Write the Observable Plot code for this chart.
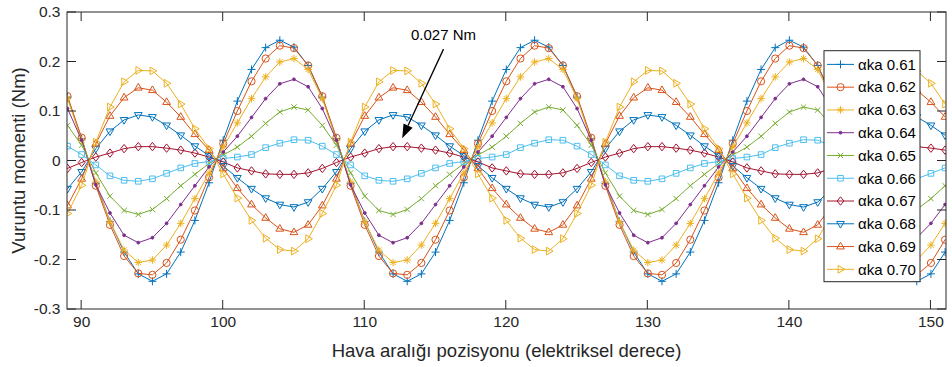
<!DOCTYPE html>
<html><head><meta charset="utf-8">
<script src="https://cdn.jsdelivr.net/npm/d3@7"></script>
<script src="https://cdn.jsdelivr.net/npm/@observablehq/plot@0.6"></script>
<style>
body{margin:0;background:#fff;}
#chart{width:952px;height:367px;}
</style>
</head><body><div id="chart"></div>
<script>
// ---------- data ----------
const angles = [89,90,91,92,93,94,95,96,97,98,99,100,101,102,103,104,105,106,107,108,109,110,111,112,113,114,115,116,117,118,119,120,121,122,123,124,125,126,127,128,129,130,131,132,133,134,135,136,137,138,139,140,141,142,143,144,145,146,147,148,149,150,151];

const seriesNames = ["αka 0.61","αka 0.62","αka 0.63","αka 0.64","αka 0.65","αka 0.66","αka 0.67","αka 0.68","αka 0.69","αka 0.70"];

const aka061 = [0.129,0.045,-0.045,-0.122,-0.184,-0.228,-0.243,-0.228,-0.184,-0.120,-0.044,
 0.042,0.121,0.185,0.229,0.244,0.230,0.193,0.129,0.045,-0.045,-0.122,-0.184,-0.228,-0.243,-0.228,-0.184,-0.120,-0.044,
 0.042,0.121,0.185,0.229,0.244,0.230,0.193,0.129,0.045,-0.045,-0.122,-0.184,-0.228,-0.243,-0.228,-0.184,-0.120,-0.044,
 0.042,0.121,0.185,0.229,0.244,0.230,0.193,0.129,0.045,-0.045,-0.122,-0.184,-0.228,-0.243,-0.228,-0.184];
const aka062 = [0.131,0.047,-0.050,-0.129,-0.192,-0.227,-0.230,-0.206,-0.159,-0.100,-0.033,
 0.035,0.101,0.161,0.207,0.233,0.228,0.193,0.131,0.047,-0.050,-0.129,-0.192,-0.227,-0.230,-0.206,-0.159,-0.100,-0.033,
 0.035,0.101,0.161,0.207,0.233,0.228,0.193,0.131,0.047,-0.050,-0.129,-0.192,-0.227,-0.230,-0.206,-0.159,-0.100,-0.033,
 0.035,0.101,0.161,0.207,0.233,0.228,0.193,0.131,0.047,-0.050,-0.129,-0.192,-0.227,-0.230,-0.206,-0.159];
const aka063 = [0.126,0.042,-0.042,-0.123,-0.180,-0.205,-0.200,-0.170,-0.126,-0.076,-0.024,
 0.028,0.077,0.126,0.170,0.200,0.207,0.185,0.126,0.042,-0.042,-0.123,-0.180,-0.205,-0.200,-0.170,-0.126,-0.076,-0.024,
 0.028,0.077,0.126,0.170,0.200,0.207,0.185,0.126,0.042,-0.042,-0.123,-0.180,-0.205,-0.200,-0.170,-0.126,-0.076,-0.024,
 0.028,0.077,0.126,0.170,0.200,0.207,0.185,0.126,0.042,-0.042,-0.123,-0.180,-0.205,-0.200,-0.170,-0.126];
const aka064 = [0.106,0.042,-0.048,-0.105,-0.150,-0.165,-0.155,-0.126,-0.088,-0.050,-0.012,
 0.018,0.050,0.088,0.126,0.156,0.165,0.150,0.106,0.042,-0.048,-0.105,-0.150,-0.165,-0.155,-0.126,-0.088,-0.050,-0.012,
 0.018,0.050,0.088,0.126,0.156,0.165,0.150,0.106,0.042,-0.048,-0.105,-0.150,-0.165,-0.155,-0.126,-0.088,-0.050,-0.012,
 0.018,0.050,0.088,0.126,0.156,0.165,0.150,0.106,0.042,-0.048,-0.105,-0.150,-0.165,-0.155,-0.126,-0.088];
const aka065 = [0.072,0.032,-0.024,-0.071,-0.100,-0.108,-0.098,-0.076,-0.050,-0.027,-0.005,
 0.012,0.028,0.050,0.076,0.099,0.109,0.103,0.072,0.032,-0.024,-0.071,-0.100,-0.108,-0.098,-0.076,-0.050,-0.027,-0.005,
 0.012,0.028,0.050,0.076,0.099,0.109,0.103,0.072,0.032,-0.024,-0.071,-0.100,-0.108,-0.098,-0.076,-0.050,-0.027,-0.005,
 0.012,0.028,0.050,0.076,0.099,0.109,0.103,0.072,0.032,-0.024,-0.071,-0.100,-0.108,-0.098,-0.076,-0.050];
const aka066 = [0.030,0.013,-0.008,-0.030,-0.039,-0.041,-0.036,-0.025,-0.014,-0.005,-0.001,
 0.005,0.008,0.013,0.027,0.036,0.043,0.042,0.030,0.013,-0.008,-0.030,-0.039,-0.041,-0.036,-0.025,-0.014,-0.005,-0.001,
 0.005,0.008,0.013,0.027,0.036,0.043,0.042,0.030,0.013,-0.008,-0.030,-0.039,-0.041,-0.036,-0.025,-0.014,-0.005,-0.001,
 0.005,0.008,0.013,0.027,0.036,0.043,0.042,0.030,0.013,-0.008,-0.030,-0.039,-0.041,-0.036,-0.025,-0.014];
const aka067 = [-0.015,-0.003,0.008,0.016,0.025,0.029,0.029,0.026,0.022,0.016,0.008,
 -0.002,-0.014,-0.020,-0.026,-0.027,-0.027,-0.024,-0.015,-0.003,0.008,0.016,0.025,0.029,0.029,0.026,0.022,0.016,0.008,
 -0.002,-0.014,-0.020,-0.026,-0.027,-0.027,-0.024,-0.015,-0.003,0.008,0.016,0.025,0.029,0.029,0.026,0.022,0.016,0.008,
 -0.002,-0.014,-0.020,-0.026,-0.027,-0.027,-0.024,-0.015,-0.003,0.008,0.016,0.025,0.029,0.029,0.026,0.022];
const aka068 = [-0.056,-0.022,0.025,0.060,0.083,0.093,0.089,0.072,0.052,0.030,0.011,
 -0.010,-0.034,-0.056,-0.075,-0.088,-0.093,-0.083,-0.056,-0.022,0.025,0.060,0.083,0.093,0.089,0.072,0.052,0.030,0.011,
 -0.010,-0.034,-0.056,-0.075,-0.088,-0.093,-0.083,-0.056,-0.022,0.025,0.060,0.083,0.093,0.089,0.072,0.052,0.030,0.011,
 -0.010,-0.034,-0.056,-0.075,-0.088,-0.093,-0.083,-0.056,-0.022,0.025,0.060,0.083,0.093,0.089,0.072,0.052];
const aka069 = [-0.090,-0.036,0.035,0.091,0.128,0.148,0.143,0.119,0.089,0.054,0.022,
 -0.015,-0.055,-0.088,-0.115,-0.137,-0.144,-0.129,-0.090,-0.036,0.035,0.091,0.128,0.148,0.143,0.119,0.089,0.054,0.022,
 -0.015,-0.055,-0.088,-0.115,-0.137,-0.144,-0.129,-0.090,-0.036,0.035,0.091,0.128,0.148,0.143,0.119,0.089,0.054,0.022,
 -0.015,-0.055,-0.088,-0.115,-0.137,-0.144,-0.129,-0.090,-0.036,0.035,0.091,0.128,0.148,0.143,0.119,0.089];
const aka070 = [-0.106,-0.049,0.038,0.109,0.160,0.183,0.182,0.157,0.115,0.065,0.025,
 -0.026,-0.075,-0.120,-0.156,-0.179,-0.182,-0.157,-0.106,-0.049,0.038,0.109,0.160,0.183,0.182,0.157,0.115,0.065,0.025,
 -0.026,-0.075,-0.120,-0.156,-0.179,-0.182,-0.157,-0.106,-0.049,0.038,0.109,0.160,0.183,0.182,0.157,0.115,0.065,0.025,
 -0.026,-0.075,-0.120,-0.156,-0.179,-0.182,-0.157,-0.106,-0.049,0.038,0.109,0.160,0.183,0.182,0.157,0.115];

const xTicks = [90,100,110,120,130,140,150];
const xTickLabels = ["90","100","110","120","130","140","150"];
const yTicks = [-0.3,-0.2,-0.1,0,0.1,0.2,0.3];
const yTickLabels = ["-0.3","-0.2","-0.1","0","0.1","0.2","0.3"];
const xLabel = "Hava aralığı pozisyonu (elektriksel derece)";
const yLabel = "Vuruntu momenti (Nm)";
const noteText = "0.027 Nm";
const notePoint = {x: 112.68, y: 0.045};
const noteFrom = {x: 115.6, y: 0.225};

// ---------- styles ----------
const values = [aka061,aka062,aka063,aka064,aka065,aka066,aka067,aka068,aka069,aka070];
const colors = ["#0072BD","#D95319","#EDB120","#7E2F8E","#77AC30","#4DBEEE","#A2142F","#0072BD","#D95319","#EDB120"];
function mk(fn){return {draw(c,s){const r=Math.sqrt(s/Math.PI); fn(c,r);}};}
const SYM = {
  plus: mk((c,r)=>{c.moveTo(-r,0);c.lineTo(r,0);c.moveTo(0,-r);c.lineTo(0,r);}),
  circle: mk((c,r)=>{c.moveTo(r,0);c.arc(0,0,r,0,2*Math.PI);}),
  asterisk: mk((c,r)=>{const a=r*0.7;c.moveTo(-r,0);c.lineTo(r,0);c.moveTo(0,-r);c.lineTo(0,r);c.moveTo(-a,-a);c.lineTo(a,a);c.moveTo(-a,a);c.lineTo(a,-a);}),
  point: mk((c,r)=>{c.moveTo(r,0);c.arc(0,0,r,0,2*Math.PI);}),
  times: mk((c,r)=>{const a=r*0.75;c.moveTo(-a,-a);c.lineTo(a,a);c.moveTo(-a,a);c.lineTo(a,-a);}),
  square: mk((c,r)=>{const a=r*0.78;c.moveTo(-a,-a);c.lineTo(a,-a);c.lineTo(a,a);c.lineTo(-a,a);c.closePath();}),
  diamond: mk((c,r)=>{c.moveTo(0,-r);c.lineTo(r*0.8,0);c.lineTo(0,r);c.lineTo(-r*0.8,0);c.closePath();}),
  down: mk((c,r)=>{c.moveTo(0,r);c.lineTo(r*0.9,-r*0.55);c.lineTo(-r*0.9,-r*0.55);c.closePath();}),
  up: mk((c,r)=>{c.moveTo(0,-r);c.lineTo(r*0.9,r*0.55);c.lineTo(-r*0.9,r*0.55);c.closePath();}),
  right: mk((c,r)=>{c.moveTo(r,0);c.lineTo(-r*0.55,r*0.9);c.lineTo(-r*0.55,-r*0.9);c.closePath();})
};
const symbols = [SYM.plus,SYM.circle,SYM.asterisk,SYM.point,SYM.times,SYM.square,SYM.diamond,SYM.down,SYM.up,SYM.right];
const radii = [4,3.6,3.8,1.4,3.6,3.6,4.2,4.3,4.3,4.3];
const filled = [false,false,false,true,false,false,false,false,false,false];

const marks = [
  Plot.axisX(xTicks,{anchor:"bottom",tickSize:0,tickPadding:6,fontSize:15.5,color:"#262626",tickFormat:d=>xTickLabels[xTicks.indexOf(d)],label:null}),
  Plot.axisY(yTicks,{anchor:"left",tickSize:0,tickPadding:7,fontSize:15.5,color:"#262626",tickFormat:d=>yTickLabels[yTicks.findIndex(t=>Math.abs(t-d)<1e-9)],label:null})
];
values.forEach((vals,i)=>{
  const rows = angles.map((a,j)=>({x:a,y:vals[j]}));
  marks.push(Plot.line(rows,{x:"x",y:"y",stroke:colors[i],strokeWidth:1,clip:true}));
  marks.push(Plot.dot(rows,{x:"x",y:"y",stroke:colors[i],fill:filled[i]?colors[i]:"none",strokeWidth:1,r:radii[i],symbol:symbols[i],clip:true}));
});

const chart = Plot.plot({
  width:952,height:367,
  marginLeft:67,marginRight:6,marginTop:12,marginBottom:58,
  style:{fontFamily:"'Liberation Sans', Arial, sans-serif",background:"white",overflow:"visible"},
  x:{domain:[89,151.1],label:null},
  y:{domain:[-0.3,0.3],label:null},
  marks
});
document.getElementById("chart").appendChild(chart);

// ---------- frame, inward ticks, labels, annotation, legend ----------
const sx = chart.scale("x"), sy = chart.scale("y");
const [fx0,fx1] = sx.range;
const yTopPx = Math.min(...sy.range), yBotPx = Math.max(...sy.range);
const svg = d3.select(chart);
const g = svg.append("g").attr("stroke","#262626").attr("stroke-width",1).attr("fill","none");
g.append("rect").attr("x",fx0).attr("y",yTopPx).attr("width",fx1-fx0).attr("height",yBotPx-yTopPx);
const T = 9;
xTicks.forEach(v=>{const px=sx.apply(v);
  g.append("line").attr("x1",px).attr("x2",px).attr("y1",yBotPx).attr("y2",yBotPx-T);
  g.append("line").attr("x1",px).attr("x2",px).attr("y1",yTopPx).attr("y2",yTopPx+T);});
yTicks.forEach(v=>{const py=sy.apply(v);
  g.append("line").attr("x1",fx0).attr("x2",fx0+T).attr("y1",py).attr("y2",py);
  g.append("line").attr("x1",fx1).attr("x2",fx1-T).attr("y1",py).attr("y2",py);});

const ff = "'Liberation Sans', Arial, sans-serif";
svg.append("text").attr("x",(fx0+fx1)/2).attr("y",357).attr("text-anchor","middle")
  .attr("font-family",ff).attr("font-size",18.5).attr("fill","#262626").text(xLabel);
svg.append("text").attr("transform",`translate(25,${(yTopPx+yBotPx)/2}) rotate(-90)`).attr("text-anchor","middle")
  .attr("font-family",ff).attr("font-size",18.5).attr("fill","#262626").text(yLabel);

// annotation arrow
const ax1 = sx.apply(noteFrom.x), ay1 = sy.apply(noteFrom.y);
const ax2 = sx.apply(notePoint.x), ay2 = sy.apply(notePoint.y);
const ang = Math.atan2(ay2-ay1, ax2-ax1), HL = 14, HW = 5;
const bx = ax2 - HL*Math.cos(ang), by = ay2 - HL*Math.sin(ang);
svg.append("line").attr("x1",ax1).attr("y1",ay1).attr("x2",bx).attr("y2",by).attr("stroke","#000").attr("stroke-width",1.3);
svg.append("path").attr("fill","#000").attr("d",
  `M${ax2},${ay2}L${bx+HW*Math.sin(ang)},${by-HW*Math.cos(ang)}L${bx-HW*Math.sin(ang)},${by+HW*Math.cos(ang)}Z`);
svg.append("text").attr("x",ax1).attr("y",ay1-9).attr("text-anchor","middle")
  .attr("font-family",ff).attr("font-size",15).attr("fill","#000").text(noteText);

// legend
const L = {x:824,y:50.7,w:96,h:231,row0:64.4,dy:22.77};
const lg = svg.append("g");
lg.append("rect").attr("x",L.x).attr("y",L.y).attr("width",L.w).attr("height",L.h).attr("fill","#fff").attr("stroke","#262626").attr("stroke-width",1);
seriesNames.forEach((name,i)=>{
  const yy = L.row0 + i*L.dy;
  lg.append("line").attr("x1",L.x+3).attr("x2",L.x+30).attr("y1",yy).attr("y2",yy).attr("stroke",colors[i]).attr("stroke-width",1);
  lg.append("path").attr("transform",`translate(${L.x+16.5},${yy})`)
    .attr("d",d3.symbol().type(symbols[i]).size(radii[i]*radii[i]*Math.PI)())
    .attr("stroke",colors[i]).attr("fill",filled[i]?colors[i]:"none").attr("stroke-width",1);
  lg.append("text").attr("x",L.x+34).attr("y",yy).attr("dy","0.35em").attr("text-anchor","start")
    .attr("font-family",ff).attr("font-size",15).attr("fill","#000").text(name);
});
</script>
</body></html>
